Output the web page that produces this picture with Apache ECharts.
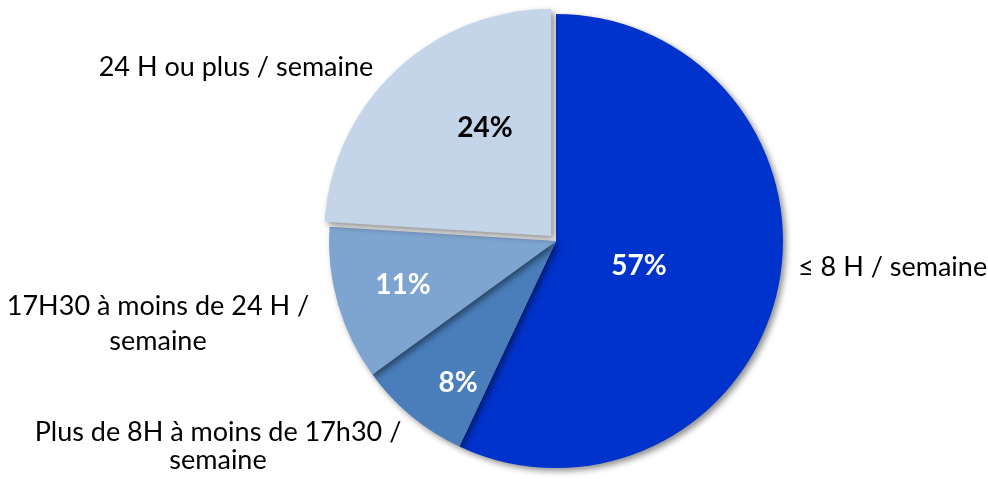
<!DOCTYPE html>
<html>
<head>
<meta charset="utf-8">
<script src="https://cdn.jsdelivr.net/npm/echarts@6/dist/echarts.min.js"></script>
<style>
html,body{margin:0;padding:0;background:#fff;}
#chart{width:988px;height:479px;}
</style>
</head>
<body>
<div id="chart"></div>
<script>
// ---- data ----
const categories = [
  '≤ 8 H / semaine',
  'Plus de 8H à moins de 17h30 /\nsemaine',
  '17H30 à moins de 24 H /\nsemaine',
  '24 H ou plus / semaine'
];
const values = [57, 8, 11, 24];
const percentLabels = ['57%', '8%', '11%', '24%'];

// ---- styles / positions ----
const sliceColors = ['#0033CC', '#4A7EBB', '#7EA4D0', '#C5D5E9'];
const percentColors = ['#ffffff', '#ffffff', '#ffffff', '#000000'];
const percentPos = [[639, 266], [458, 383], [403, 285], [485, 128]];
const namePos = [[798, 267, 'left'], [218, 446, 'center'], [158, 324, 'center'], [236, 67, 'center']];
const nameLineHeights = [30, 28, 35, 30];

const chart = echarts.init(document.getElementById('chart'), null, {renderer: 'canvas'});

const base = {
  type: 'pie',
  center: [556, 241],
  radius: [0, 227],
  startAngle: 90,
  clockwise: true,
  silent: true,
  avoidLabelOverlap: false,
  labelLine: {show: false}
};

const sliceData = values.map((v, i) => ({
  name: categories[i],
  value: v,
  selected: i === 3,
  itemStyle: {color: sliceColors[i]}
}));
const percentData = values.map((v, i) => ({
  name: categories[i],
  value: v,
  label: {color: percentColors[i]}
}));
const nameData = values.map((v, i) => ({
  name: categories[i],
  value: v,
  label: {lineHeight: nameLineHeights[i], align: namePos[i][2]}
}));

chart.setOption({
  animation: false,
  backgroundColor: '#ffffff',
  series: [
    Object.assign({}, base, {
      z: 2,
      selectedMode: 'single',
      selectedOffset: 7,
      itemStyle: {
        shadowBlur: 6,
        shadowOffsetX: 3,
        shadowOffsetY: 3,
        shadowColor: 'rgba(0,0,0,0.45)'
      },
      label: {show: false},
      select: {label: {show: false}, itemStyle: {borderWidth: 0}},
      data: sliceData
    }),
    Object.assign({}, base, {
      z: 5,
      itemStyle: {color: 'rgba(0,0,0,0)'},
      label: {
        show: true,
        position: 'inside',
        formatter: p => percentLabels[p.dataIndex],
        fontFamily: 'Lato',
        fontWeight: 'bold',
        fontSize: 28
      },
      labelLayout: p => ({
        x: percentPos[p.dataIndex][0],
        y: percentPos[p.dataIndex][1],
        align: 'center',
        verticalAlign: 'middle'
      }),
      data: percentData
    }),
    Object.assign({}, base, {
      z: 5,
      itemStyle: {color: 'rgba(0,0,0,0)'},
      label: {
        show: true,
        position: 'outside',
        formatter: p => p.name,
        fontFamily: 'Lato',
        fontSize: 27,
        color: '#000000'
      },
      labelLayout: p => ({
        x: namePos[p.dataIndex][0],
        y: namePos[p.dataIndex][1],
        align: namePos[p.dataIndex][2],
        verticalAlign: 'middle'
      }),
      data: nameData
    })
  ]
});
</script>
</body>
</html>
